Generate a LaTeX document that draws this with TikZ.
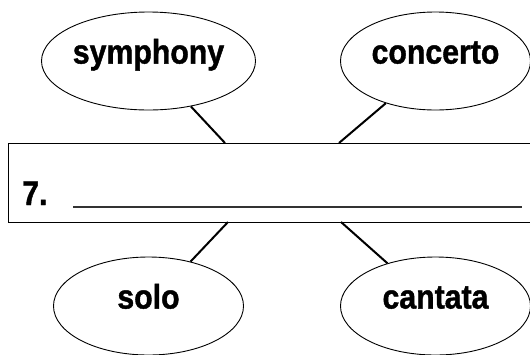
\documentclass[tikz,border=0pt]{standalone}
\usepackage{fontspec}
\setmainfont[FakeStretch=0.89, BoldFeatures={FakeBold=1.2}]{Liberation Sans}
\usetikzlibrary{shapes.geometric}
\begin{document}
\begin{tikzpicture}[x=1pt,y=-1pt,
  bubble/.style={draw, ellipse, line width=0.9pt, inner sep=0pt,
    minimum width=190pt, minimum height=98pt,
    font=\fontsize{34}{34}\selectfont\bfseries,
    text height=0.72em, text depth=0.21em},
  link/.style={line width=2pt},
  boxstyle/.style={draw, line width=1.4pt, inner sep=0pt, anchor=north west,
    minimum width=540pt, minimum height=79pt}]
\useasboundingbox (0,0) rectangle (530,354);
\clip (0,0) rectangle (530,354);
\node[boxstyle] (box) at (8,143) {};
\node[bubble] (sym) at (148.5,61) {symphony};
\node[bubble] (con) at (435.5,61) {concerto};
\node[bubble] (solo) at (148.5,306) {solo};
\node[bubble] (can) at (435.5,306) {cantata};
\coordinate (c1) at (225,143);
\coordinate (c2) at (339,143);
\coordinate (c3) at (228,222);
\coordinate (c4) at (341,222);
\draw[link] (sym) -- (c1);
\draw[link] (con) -- (c2);
\draw[link] (solo) -- (c3);
\draw[link] (can) -- (c4);
\node[anchor=base west, inner sep=0pt, font=\fontsize{34}{34}\selectfont\bfseries] (num) at (22,205) {7.};
\coordinate (u1) at (73,207);
\coordinate (u2) at (522,207);
\draw[line width=1.4pt, black!80] (u1) -- (u2);
\end{tikzpicture}
\end{document}
